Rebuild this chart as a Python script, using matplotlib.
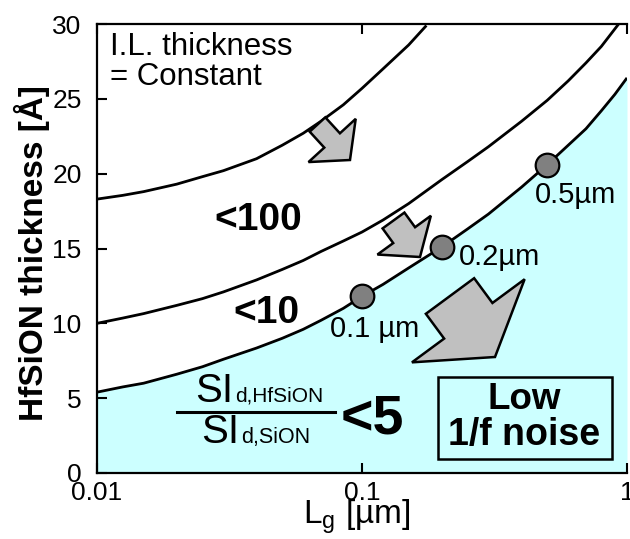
import numpy as np
import matplotlib
matplotlib.use("Agg")
import matplotlib.pyplot as plt
from matplotlib.patches import Polygon, Rectangle

plt.rcParams['font.family'] = ['Liberation Sans', 'DejaVu Sans']
plt.rcParams['mathtext.fontset'] = 'custom'
plt.rcParams['mathtext.rm'] = 'Liberation Sans'
plt.rcParams['mathtext.it'] = 'Liberation Sans'

# ---- data ----
lg_low = [0.01, 0.0125, 0.015, 0.02, 0.025, 0.03, 0.04, 0.05, 0.06, 0.07, 0.085, 0.1,
          0.12, 0.15, 0.2, 0.25, 0.3, 0.4, 0.5, 0.6, 0.7, 0.8, 0.9, 1.0]
t_low = [5.4, 5.75, 6.0, 6.6, 7.1, 7.6, 8.35, 9.0, 9.6, 10.2, 11.0, 11.8,
         12.6, 13.7, 15.1, 16.3, 17.3, 19.1, 20.6, 21.9, 23.0, 24.2, 25.3, 26.4]   # ratio < 5

lg_mid = [0.01, 0.0125, 0.015, 0.02, 0.025, 0.03, 0.04, 0.05, 0.06, 0.07, 0.085, 0.1,
          0.12, 0.15, 0.2, 0.25, 0.3, 0.4, 0.5, 0.6, 0.7, 0.8, 0.93]
t_mid = [10.0, 10.35, 10.65, 11.2, 11.65, 12.1, 12.9, 13.6, 14.2, 14.8, 15.5, 16.1,
         16.9, 18.0, 19.6, 20.8, 21.8, 23.5, 24.9, 26.2, 27.4, 28.5, 30.0]  # ratio < 10

lg_top = [0.01, 0.0125, 0.015, 0.02, 0.025, 0.03, 0.04, 0.05, 0.06, 0.07, 0.085, 0.1,
          0.12, 0.15, 0.175]
t_top = [18.3, 18.55, 18.8, 19.3, 19.8, 20.2, 21.0, 21.9, 22.7, 23.5, 24.6, 25.7,
         27.0, 28.6, 29.9]  # ratio < 100

dot_lg = [0.1, 0.2, 0.5]
dot_t = [11.8, 15.1, 20.6]
dot_labels = ["0.1 µm", "0.2µm", "0.5µm"]

region_labels = ["<100", "<10"]
x_ticks = [0.01, 0.1, 1]
x_ticklabels = ["0.01", "0.1", "1"]
y_ticks = [0, 5, 10, 15, 20, 25, 30]

# ---- figure ----
W, H = 630, 539
fig = plt.figure(figsize=(W / 100, H / 100), dpi=100)
AX_L, AX_R, AX_T, AX_B = 97, 627, 24, 473
ax = fig.add_axes([AX_L / W, (H - AX_B) / H, (AX_R - AX_L) / W, (AX_B - AX_T) / H])
ax.set_xscale('log')
ax.set_xlim(0.01, 1)
ax.set_ylim(0, 30)

def px2ax(x, y):
    return ((x - AX_L) / (AX_R - AX_L), (AX_B - y) / (AX_B - AX_T))

cyan = '#CCFFFF'
ax.fill_between(lg_low, t_low, 0, color=cyan, lw=0, zorder=1)
for xs, ys in [(lg_low, t_low), (lg_mid, t_mid), (lg_top, t_top)]:
    ax.plot(xs, ys, color='black', lw=2.0, zorder=3, solid_capstyle='butt',
            solid_joinstyle='round')

ax.plot(dot_lg, dot_t, 'o', ms=17, mfc='#808080', mec='black', mew=1.6, zorder=5)
offsets = [(-32, -41), (17, -18), (-12, -38)]
for x, y, lab, off in zip(dot_lg, dot_t, dot_labels, offsets):
    ax.annotate(lab, (x, y), xytext=off, textcoords='offset pixels',
                fontsize=21, ha='left', va='baseline', zorder=6)

# block arrows (image pixel geometry)
def block_arrow(tail, tip, shaft_hw, head_hw, head_len):
    t = np.array(tail, float); p = np.array(tip, float)
    d = p - t; L = np.hypot(*d); u = d / L; n = np.array([-u[1], u[0]])
    b = p - u * head_len
    pts = [t + n * shaft_hw, b + n * shaft_hw, b + n * head_hw, p,
           b - n * head_hw, b - n * shaft_hw, t - n * shaft_hw]
    pts = [px2ax(*q) for q in pts]
    ax.add_patch(Polygon(pts, closed=True, transform=ax.transAxes, fc='#C0C0C0',
                         ec='black', lw=1.8, zorder=4, joinstyle='miter'))

block_arrow((317.5, 124.5), (350, 160), 10.6, 32, 26.5)
block_arrow((393.5, 220.5), (420, 257), 13.5, 33, 27)
block_arrow((450, 296), (495, 357), 30, 70, 45)

# texts
ax.text(*px2ax(110, 55), "I.L. thickness", fontsize=22.5, ha='left', va='baseline', transform=ax.transAxes)
ax.text(*px2ax(110, 85), "= Constant", fontsize=22.5, ha='left', va='baseline', transform=ax.transAxes)
ax.text(*px2ax(258, 230), region_labels[0], fontsize=28, fontweight='bold', ha='center', va='baseline', transform=ax.transAxes)
ax.text(*px2ax(266, 323), region_labels[1], fontsize=28, fontweight='bold', ha='center', va='baseline', transform=ax.transAxes)

# fraction
ax.text(*px2ax(233, 402), "SI", fontsize=29, ha='right', va='baseline', transform=ax.transAxes)
ax.text(*px2ax(235, 402), "d,HfSiON", fontsize=15, ha='left', va='baseline', transform=ax.transAxes)
ax.text(*px2ax(239, 443), "SI", fontsize=29, ha='right', va='baseline', transform=ax.transAxes)
ax.text(*px2ax(241, 443), "d,SiON", fontsize=15.5, ha='left', va='baseline', transform=ax.transAxes)
fx0, fy0 = px2ax(177, 412); fx1, _ = px2ax(335, 412)
ax.plot([fx0, fx1], [fy0, fy0], color='black', lw=2.2, transform=ax.transAxes, zorder=6)
ax.text(*px2ax(341, 434), "<5", fontsize=40, fontweight='bold', ha='left', va='baseline', transform=ax.transAxes)

# box
bx0, by0 = px2ax(438, 459); bx1, by1 = px2ax(612, 377)
ax.add_patch(Rectangle((bx0, by0), bx1 - bx0, by1 - by0, transform=ax.transAxes,
                       fc=cyan, ec='black', lw=1.8, zorder=6))
ax.text(*px2ax(524, 409), "Low", fontsize=26.5, fontweight='bold', ha='center', va='baseline', transform=ax.transAxes, zorder=7)
ax.text(*px2ax(524, 445), "1/f noise", fontsize=27, fontweight='bold', ha='center', va='baseline', transform=ax.transAxes, zorder=7)

# axes styling
for s in ['left', 'bottom', 'top']:
    ax.spines[s].set_linewidth(1.6)
ax.spines['right'].set_visible(False)
ax.set_xticks(x_ticks)
ax.set_xticklabels(x_ticklabels)
ax.xaxis.set_minor_locator(matplotlib.ticker.NullLocator())
ax.set_yticks(y_ticks)
ax.tick_params(direction='in', length=7, width=1.5, labelsize=19, top=True, right=False)
ax.tick_params(axis='y', pad=11)
ax.tick_params(axis='x', pad=6)

ax.set_xlabel(r"L$_\mathregular{g}$ [µm]", fontsize=24)
ax.xaxis.set_label_coords(*px2ax(357, 498))
ax.set_ylabel("HfSiON thickness [Å]", fontsize=24, fontweight='bold')
ax.yaxis.set_label_coords(*px2ax(50, 253))

fig.savefig("out.png", dpi=100)
